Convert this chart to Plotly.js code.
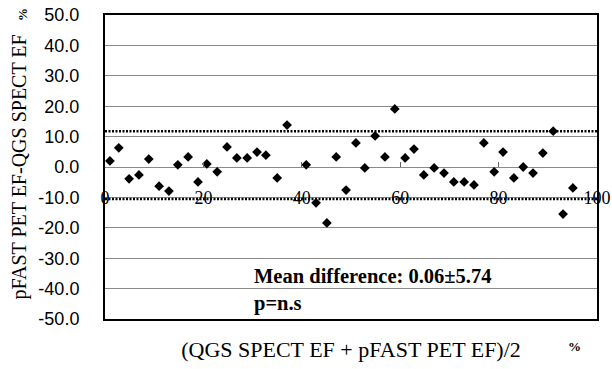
<!DOCTYPE html>
<html>
<head>
<meta charset="utf-8">
<script src="https://cdn.plot.ly/plotly-3.0.1.min.js"></script>
<style>html,body{margin:0;padding:0;background:#fff}#chart{width:612px;height:369px}</style>
</head>
<body>
<div id="chart"></div>
<script>
// Average of the two methods (x) and their difference (y)
var avgEF = [1.0, 2.8, 4.9, 6.9, 8.9, 11.0, 13.0, 14.8, 16.9, 18.9, 20.7, 22.8, 24.8, 26.8, 28.9, 30.9, 32.7, 35.0, 37.0,
             40.9, 42.9, 45.1, 47.0, 49.0, 51.0, 52.8, 54.9, 56.9, 58.9, 61.0, 62.8, 64.8, 66.9, 68.9, 70.9, 73.0, 75.0,
             77.0, 79.1, 80.9, 83.1, 85.0, 87.0, 89.0, 91.1, 93.1, 95.1];
var diffEF = [2.0, 6.3, -3.9, -2.6, 2.6, -6.3, -7.9, 0.7, 3.3, -4.9, 1.0, -1.6, 6.6, 3.0, 3.0, 4.9, 3.9, -3.6, 13.8,
              0.7, -11.8, -18.4, 3.3, -7.6, 7.9, -0.3, 10.2, 3.3, 19.1, 3.0, 5.9, -2.6, -0.3, -2.0, -4.9, -4.9, -5.9,
              7.9, -1.6, 4.9, -3.6, 0.0, -2.0, 4.6, 11.8, -15.5, -6.9];
var limitsOfAgreement = [11.8, -10.5];
var xTickVals = [0, 20, 40, 60, 80, 100];
var yTickVals = [50, 40, 30, 20, 10, 0, -10, -20, -30, -40, -50];
var statLines = ['Mean difference: 0.06\u00B15.74', 'p=n.s'];

var serif = '"Liberation Serif", "Times New Roman", serif';
var sans = '"Liberation Sans", Arial, sans-serif';

var traces = [];
limitsOfAgreement.forEach(function (v) {
  traces.push({
    x: [xTickVals[0], xTickVals[xTickVals.length - 1]], y: [v, v],
    xaxis: 'x2', yaxis: 'y',
    mode: 'lines', line: {color: '#000', width: 2.5, dash: '2px,1.5px'},
    hoverinfo: 'skip', showlegend: false
  });
});
traces.push({
  x: avgEF, y: diffEF, type: 'scatter', mode: 'markers',
  marker: {symbol: 'diamond', size: 7.5, color: '#000'},
  showlegend: false
});

var layout = {
  width: 612, height: 369,
  margin: {l: 105, r: 15, t: 15, b: 50},
  paper_bgcolor: '#fff', plot_bgcolor: '#fff',
  font: {family: serif, color: '#000'},
  showlegend: false,
  xaxis: {
    range: [0, 100], showgrid: false, zeroline: false, showticklabels: false, ticks: '',
    showline: true, mirror: true, linecolor: '#000', linewidth: 2,
    title: {text: '(QGS SPECT EF + pFAST PET EF)/2', font: {family: serif, size: 22, color: '#000'}, standoff: 22}
  },
  xaxis2: {
    overlaying: 'x', anchor: 'free', position: 0.5, side: 'bottom',
    range: [0, 100], tickvals: xTickVals, ticktext: xTickVals.map(String),
    showgrid: false, zeroline: false, showline: false,
    ticks: 'inside', ticklen: 5, tickwidth: 1, tickcolor: '#666',
    ticklabelstandoff: 18,
    tickfont: {family: serif, size: 18, color: '#000'}
  },
  yaxis: {
    range: [-50, 50], tickvals: yTickVals, ticktext: yTickVals.map(function (v) { return v.toFixed(1); }),
    showgrid: true, gridcolor: '#8a8a8a', gridwidth: 1, zeroline: false,
    showline: true, mirror: true, linecolor: '#000', linewidth: 2,
    ticks: 'outside', ticklen: 20, tickcolor: 'rgba(0,0,0,0)',
    tickfont: {family: sans, size: 18, color: '#000'},
    title: {text: 'pFAST PET EF-QGS SPECT EF', font: {family: serif, size: 20, color: '#000'}, standoff: 6}
  },
  annotations: [
    {x: 29.8, y: -35.9, xref: 'x', yref: 'y', xanchor: 'left', yanchor: 'middle', showarrow: false,
     text: '<b>' + statLines[0] + '</b>', font: {family: serif, size: 20.5, color: '#000'}},
    {x: 29.8, y: -45.0, xref: 'x', yref: 'y', xanchor: 'left', yanchor: 'middle', showarrow: false,
     text: '<b>' + statLines[1] + '</b>', font: {family: serif, size: 20.5, color: '#000'}},
    {x: 0.955, y: -0.09, xref: 'paper', yref: 'paper', xanchor: 'center', yanchor: 'middle', showarrow: false,
     text: '<b>%</b>', font: {family: serif, size: 13, color: '#000'}},
    {x: -0.169, y: 1.003, xref: 'paper', yref: 'paper', xanchor: 'center', yanchor: 'middle', showarrow: false,
     text: '<b>%</b>', textangle: -90, font: {family: serif, size: 13, color: '#000'}}
  ]
};

Plotly.newPlot('chart', traces, layout, {staticPlot: true, displayModeBar: false});
</script>
</body>
</html>
